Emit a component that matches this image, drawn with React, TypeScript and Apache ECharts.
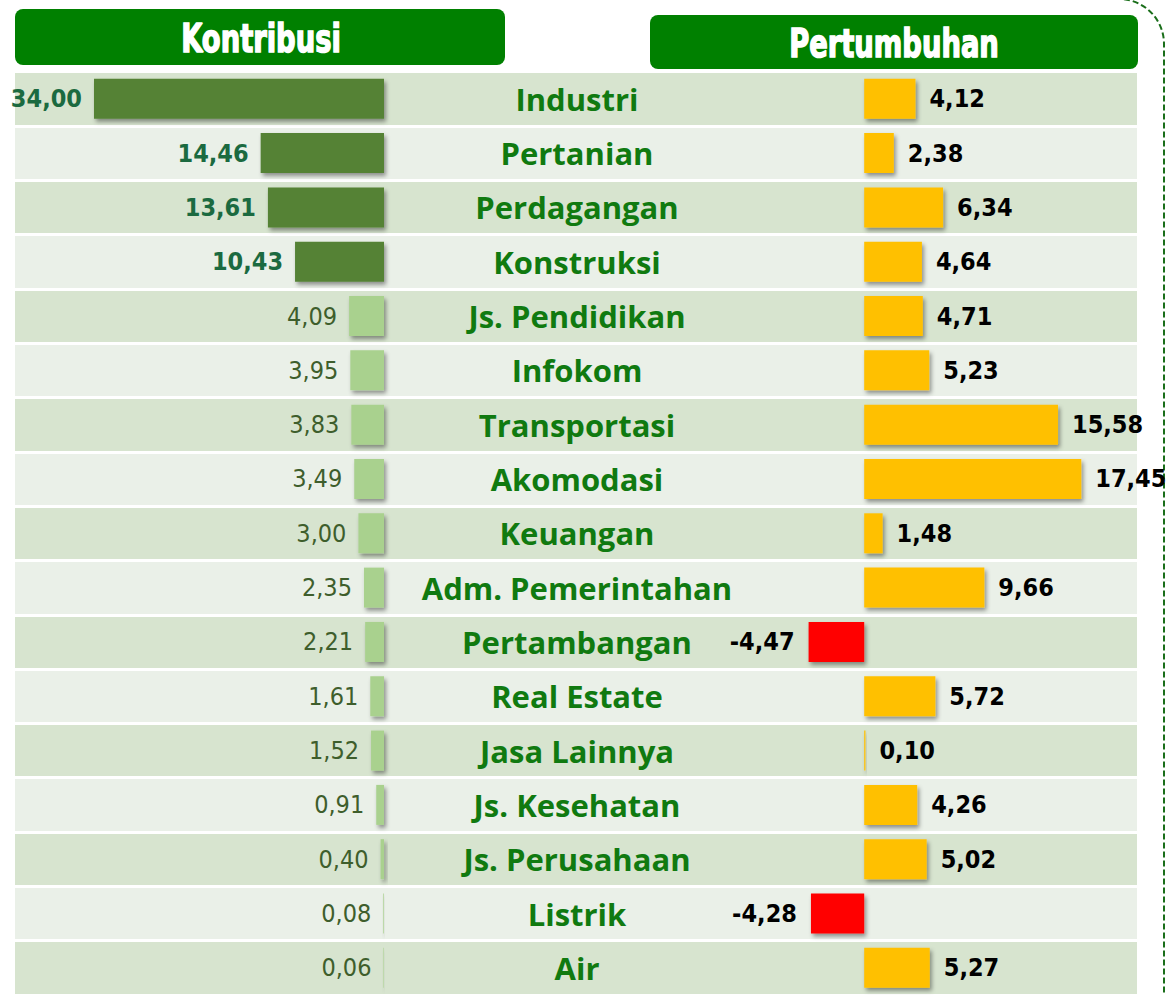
import React, { useEffect, useRef } from 'react';
import * as echarts from 'echarts';

const sectors = [
  'Industri', 'Pertanian', 'Perdagangan', 'Konstruksi', 'Js. Pendidikan', 'Infokom',
  'Transportasi', 'Akomodasi', 'Keuangan', 'Adm. Pemerintahan', 'Pertambangan',
  'Real Estate', 'Jasa Lainnya', 'Js. Kesehatan', 'Js. Perusahaan', 'Listrik', 'Air',
];
const kontribusi = [34.0, 14.46, 13.61, 10.43, 4.09, 3.95, 3.83, 3.49, 3.0, 2.35, 2.21, 1.61, 1.52, 0.91, 0.4, 0.08, 0.06];
const pertumbuhan = [4.12, 2.38, 6.34, 4.64, 4.71, 5.23, 15.58, 17.45, 1.48, 9.66, -4.47, 5.72, 0.1, 4.26, 5.02, -4.28, 5.27];
const titles = ['Kontribusi', 'Pertumbuhan'];

const NARROW = '"DejaVu Sans Condensed", "Roboto", sans-serif';
const fmt = (v: number) => v.toFixed(2).replace('.', ',');

const TOP = 71.6;
const ROW = 54.75;
const HEIGHT = ROW * sectors.length;

const shadow = {
  shadowBlur: 4,
  shadowColor: 'rgba(0,0,0,0.4)',
  shadowOffsetX: 2,
  shadowOffsetY: 3,
};

export default function App() {
  const ref = useRef<HTMLDivElement>(null);
  useEffect(() => {
    if (!ref.current) return;
    const chart = echarts.init(ref.current, null, { renderer: 'svg' });
    const leftData = kontribusi.map((v) => {
      const big = v >= 10;
      return {
        value: v,
        itemStyle: { color: big ? '#548235' : '#a9d18e', ...shadow },
        label: big
          ? { fontWeight: 'bold', color: '#1b6a40' }
          : { fontWeight: 'normal', color: '#3e5e2c' },
      };
    });
    const rightData = pertumbuhan.map((v) => ({
      value: v,
      itemStyle: { color: v >= 0 ? '#ffc000' : '#ff0000', ...shadow },
    }));
    const titleStyle = (text: string) => ({
      text,
      fill: '#ffffff',
      font: 'bold 39px ' + NARROW,
      textAlign: 'center',
      textVerticalAlign: 'middle',
      stroke: '#ffffff',
      lineWidth: 1.5,
    });
    chart.setOption({
      animation: false,
      backgroundColor: '#ffffff',
      grid: [
        { left: 94, top: TOP, width: 290, height: HEIGHT },
        { left: 802, top: TOP, width: 311, height: HEIGHT },
        { left: 15, top: TOP, width: 1122, height: HEIGHT },
      ],
      xAxis: [
        { gridIndex: 0, type: 'value', min: 0, max: 34, inverse: true, show: false },
        { gridIndex: 1, type: 'value', min: -5, max: 20, show: false },
        { gridIndex: 2, type: 'value', min: 0, max: 1, show: false },
      ],
      yAxis: [
        {
          gridIndex: 0,
          type: 'category',
          data: sectors,
          inverse: true,
          position: 'right',
          axisLine: { show: false },
          axisTick: { show: false },
          splitLine: { show: false },
          axisLabel: {
            interval: 0,
            margin: 193,
            align: 'center',
            verticalAlign: 'middle',
            padding: [3, 0, 0, 0],
            fontFamily: '"Open Sans", sans-serif',
            fontWeight: 'bold',
            fontSize: 31,
            color: '#107a10',
          },
          z: 5,
        },
        {
          gridIndex: 1,
          type: 'category',
          data: sectors,
          inverse: true,
          axisLine: { show: false },
          axisTick: { show: false },
          axisLabel: { show: false },
          splitLine: { show: false },
        },
        {
          gridIndex: 2,
          type: 'category',
          data: sectors,
          inverse: true,
          axisLine: { show: false },
          axisTick: { show: false },
          axisLabel: { show: false },
          splitLine: { show: true, interval: 0, lineStyle: { color: '#ffffff', width: 3 } },
          splitArea: { show: true, interval: 0, areaStyle: { color: ['#d7e4cf', '#eaf0e8'] } },
          z: 0,
        },
      ],
      series: [
        {
          type: 'bar',
          xAxisIndex: 0,
          yAxisIndex: 0,
          barWidth: 40,
          data: leftData,
          label: {
            show: true,
            position: 'outside',
            distance: 12,
            formatter: (p: any) => fmt(p.value),
            fontFamily: NARROW,
            fontSize: 25,
          },
        },
        {
          type: 'bar',
          xAxisIndex: 1,
          yAxisIndex: 1,
          barWidth: 40,
          data: rightData,
          label: {
            show: true,
            position: 'outside',
            distance: 14,
            formatter: (p: any) => fmt(p.value),
            fontFamily: NARROW,
            fontWeight: 'bold',
            fontSize: 25,
            color: '#000000',
          },
        },
      ],
      graphic: [
        {
          type: 'rect',
          shape: { x: -100, y: -1, width: 1264, height: 1200, r: 45 },
          style: { fill: 'none', stroke: '#1a6e1a', lineWidth: 2, lineDash: [6, 3] },
          silent: true,
        },
        {
          type: 'rect',
          shape: { x: 15, y: 9, width: 490, height: 56, r: 8 },
          style: { fill: '#008000' },
        },
        {
          type: 'text',
          x: 261,
          y: 39,
          scaleX: 0.78,
          style: titleStyle(titles[0]),
        },
        {
          type: 'rect',
          shape: { x: 650, y: 15, width: 488, height: 54, r: 8 },
          style: { fill: '#008000' },
        },
        {
          type: 'text',
          x: 894,
          y: 44,
          scaleX: 0.78,
          style: titleStyle(titles[1]),
        },
      ],
    });
    return () => chart.dispose();
  }, []);
  return (
    <div
      ref={ref}
      style={{ position: 'fixed', left: 0, top: 0, width: 1168, height: 995 }}
    />
  );
}
